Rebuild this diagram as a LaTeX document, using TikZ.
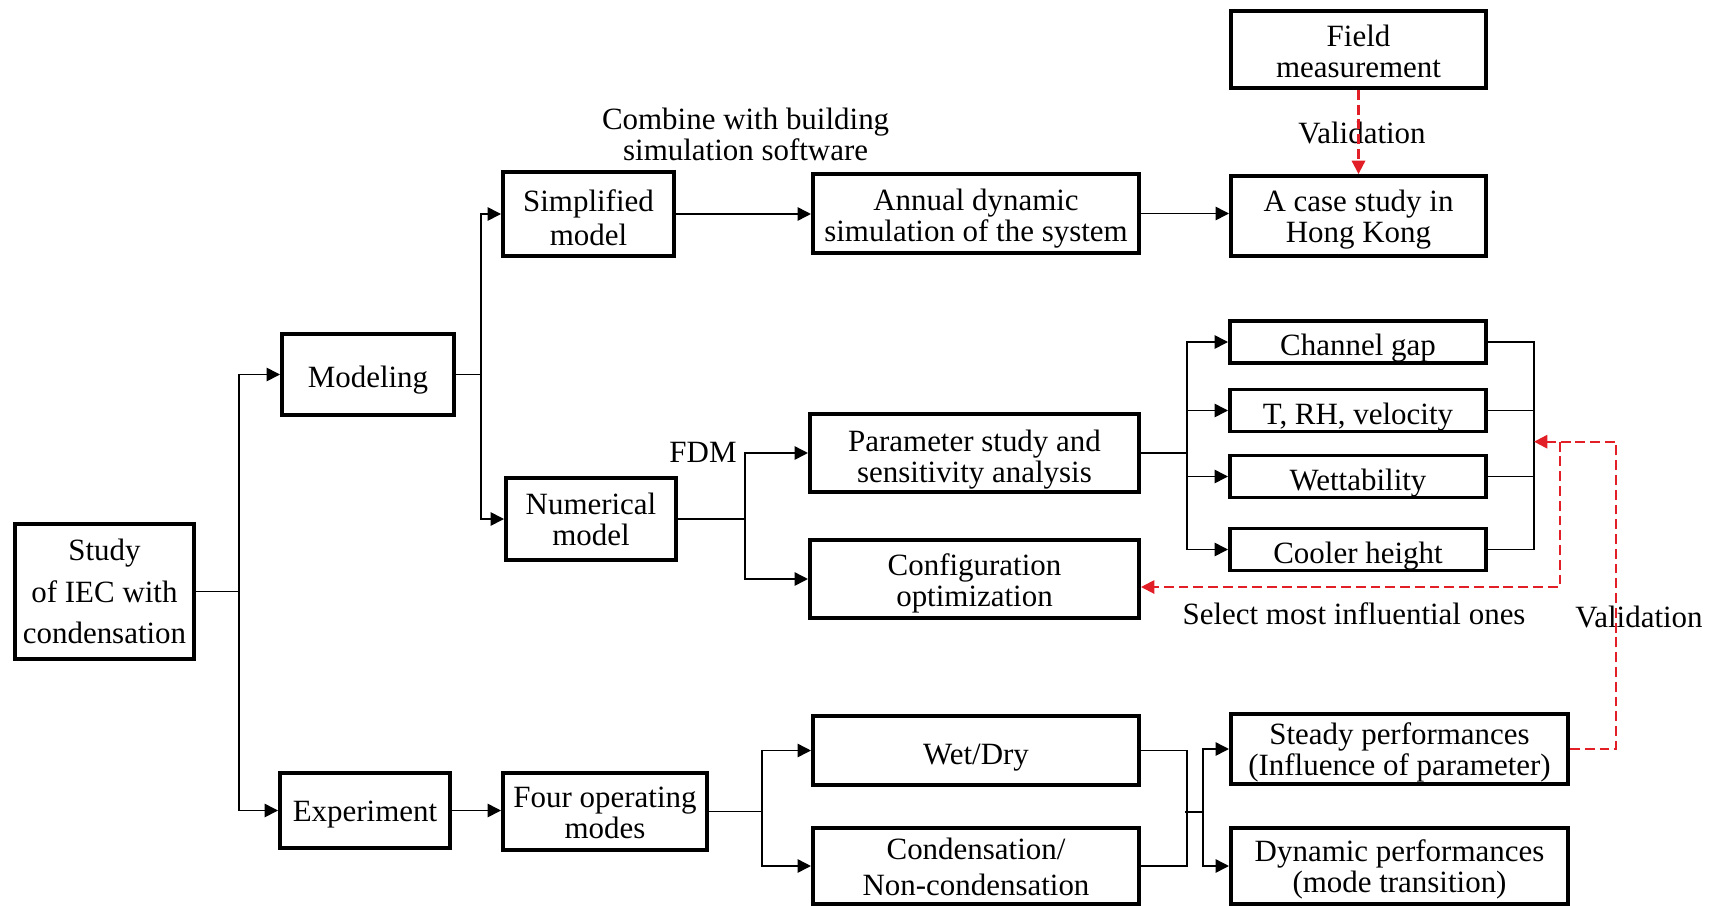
\documentclass[tikz,border=0pt]{standalone}
\usepackage{fontspec}
\setmainfont{Liberation Serif}
\usetikzlibrary{arrows.meta, positioning, calc}
\definecolor{ValRed}{HTML}{E21F26}
\newcommand{\lowstrut}[1]{\rule{0pt}{#1}}

\begin{document}
\begin{tikzpicture}[x=0.01cm, y=-0.01cm, >={Triangle[length=3.8pt, width=3.8pt]},
        font=\fontsize{8.8}{8.8}\selectfont,
        blockbox/.style={rectangle, draw=black, line width=1.1pt, inner sep=0pt, align=center},
        textdrop/.style={execute at begin node={\rule{0pt}{#1}}},
        textdrop/.default=9.2pt,
        thinbox/.style={blockbox, textdrop=9.6pt, minimum width=2.56cm, minimum height=0.42cm},
        arrow/.style={->, line width=0.45pt, black},
        plainline/.style={line width=0.45pt, black},
        redarrow/.style={->, line width=0.6pt, ValRed, dashed, dash pattern=on 2.8pt off 1.4pt}]
        \useasboundingbox (0,0) rectangle (1727,906);

        % main branches
        \node[blockbox, minimum width=1.79cm, minimum height=1.35cm] (study) at (104.5,591.5) {Study\\[2.9pt]of IEC with\\[2.9pt]condensation};
        \node[blockbox, textdrop, minimum width=1.72cm, minimum height=0.81cm] (modeling) at (368,374.5) {Modeling};
        \node[blockbox, textdrop=8pt, minimum width=1.70cm, minimum height=0.75cm] (experiment) at (365,810.5) {Experiment};

        % modeling part
        \node[blockbox, minimum width=1.71cm, minimum height=0.84cm] (simplified) at (588.5,214) {\lowstrut{8.2pt}Simplified\\[0.9pt]model};
        \node[blockbox, minimum width=1.70cm, minimum height=0.82cm] (numerical) at (591,519) {Numerical\\model};
        \node[blockbox, minimum width=3.26cm, minimum height=0.79cm] (annual) at (976,213.5) {\lowstrut{9.2pt}Annual dynamic\\simulation of the system};
        \node[blockbox, minimum width=2.55cm, minimum height=0.80cm] (casestudy) at (1358.5,216) {\lowstrut{8.2pt}A case study in\\Hong Kong};
        \node[blockbox, minimum width=2.55cm, minimum height=0.77cm] (field) at (1358.5,49.5) {\lowstrut{7pt}Field\\measurement};
        \node[blockbox, minimum width=3.29cm, minimum height=0.78cm] (param) at (974.5,453) {\lowstrut{9.8pt}Parameter study and\\sensitivity analysis};
        \node[blockbox, minimum width=3.29cm, minimum height=0.78cm] (config) at (974.5,579) {\lowstrut{8.6pt}Configuration\\optimization};
        \node[thinbox] (channel) at (1358,342) {Channel gap};
        \node[thinbox] (tvel) at (1358,410.5) {T, RH, velocity};
        \node[thinbox, textdrop=8.6pt] (wett) at (1358,476.5) {Wettability};
        \node[thinbox, textdrop=9.2pt] (cooler) at (1358,549.5) {Cooler height};

        % experiment part
        \node[blockbox, minimum width=2.04cm, minimum height=0.77cm] (fourmodes) at (605,811.5) {\lowstrut{6.6pt}Four operating\\modes};
        \node[blockbox, textdrop=9.6pt, minimum width=3.26cm, minimum height=0.69cm] (wetdry) at (976,750.5) {Wet/Dry};
        \node[blockbox, minimum width=3.26cm, minimum height=0.76cm] (cond) at (976,866) {\lowstrut{6.6pt}Condensation/\\[1.5pt]Non-condensation};
        \node[blockbox, minimum width=3.37cm, minimum height=0.70cm] (steady) at (1399.5,749) {\lowstrut{8pt}Steady performances\\(Influence of parameter)};
        \node[blockbox, minimum width=3.37cm, minimum height=0.76cm] (dynamic) at (1399.5,866) {\lowstrut{8pt}Dynamic performances\\(mode transition)};

        % labels
        \node[align=center] (combine) at (745.6,134.5) {Combine with building\\simulation software};
        \node (fdm) at (703,452) {FDM};
        \node (valtop) at (1362,133) {Validation};
        \node (valright) at (1639,617) {Validation};
        \node (select) at (1354,613.5) {Select most influential ones};

        \coordinate (mid) at (1185,812);
        \coordinate (redtip) at (1534,441.7);
        \coordinate (vturn) at (1616,441.7);
        \coordinate (sturn) at (1560,441.7);

        \draw[arrow] (study.east) -- ++(43,0) |- (modeling.west);
        \draw[arrow] (study.east) -- ++(43,0) |- (experiment.west);
        \draw[arrow] (modeling.east) -- ++(25,0) |- (simplified.west);
        \draw[arrow] (modeling.east) -- ++(25,0) |- (numerical.west);
        \draw[arrow] (simplified.east) -- (simplified.east -| annual.west);
        \draw[arrow] (annual.east) -- (annual.east -| casestudy.west);
        \draw[arrow] (numerical.east) -- ++(67,0) |- (param.west);
        \draw[arrow] (numerical.east) -- ++(67,0) |- (config.west);
        \foreach \n in {channel, tvel, wett, cooler}
            \draw[arrow] (param.east) -- ++(46,0) |- (\n.west);
        \draw[plainline] (channel.east) -- ++(46,0) |- (cooler.east);
        \draw[plainline] (tvel.east) -- ++(46,0);
        \draw[plainline] (wett.east) -- ++(46,0);

        \draw[arrow] (experiment.east) -- (experiment.east -| fourmodes.west);
        \draw[arrow] (fourmodes.east) -- ++(53,0) |- (wetdry.west);
        \draw[arrow] (fourmodes.east) -- ++(53,0) |- (cond.west);
        \draw[plainline] (wetdry.east) -- ++(46,0) |- (cond.east);
        \draw[arrow] (mid) -- ++(18,0) |- (steady.west);
        \draw[arrow] (mid) -- ++(18,0) |- (dynamic.west);

        % validation loops
        \draw[redarrow] (field.south) -- (casestudy.north);
        \draw[redarrow] (steady.east) -| (vturn) -- (redtip);
        \draw[redarrow] (sturn) |- ([yshift=-0.08cm]config.east);
    \end{tikzpicture}
\end{document}
